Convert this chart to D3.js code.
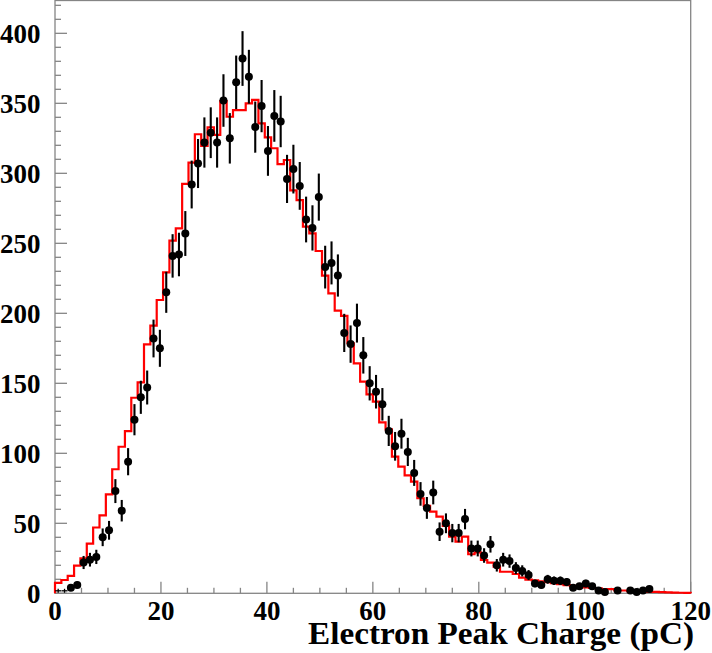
<!DOCTYPE html>
<html>
<head>
<meta charset="utf-8">
<script src="https://cdn.jsdelivr.net/npm/d3@7"></script>
<style>
  html, body { margin: 0; padding: 0; background: #fff; }
  svg { display: block; }
  text { font-family: "Liberation Serif", "Times New Roman", serif; font-weight: bold; fill: #000; }
</style>
</head>
<body>
<svg id="chart" width="712" height="653"></svg>
<script>
// ---- data ----
const binEdges = [0, 120];
const nBins = 100;
const xTickLabels = ["0", "20", "40", "60", "80", "100", "120"];
const yTickLabels = ["0", "50", "100", "150", "200", "250", "300", "350", "400"];
const xTitle = "Electron Peak Charge (pC)";

// MC simulation histogram (red)
const mcValues = [
  7.5, 9.5, 12.4, 19.7, 25, 35.5, 47, 55.7, 70.7, 88.6,
  104.7, 115.9, 139.7, 150.7, 177.8, 191.2, 209.5, 229.3, 251.9, 260.7,
  292.4, 307.6, 327.9, 319.5, 332.9, 327.4, 351.6, 340.4, 345.2, 345.2,
  350, 352.4, 335.7, 325.7, 317.9, 306.6, 309.5, 287.8, 280.9, 261.9,
  257.1, 244.5, 226.9, 214.3, 201.9, 198.1, 178.6, 164.3, 151.2, 142.1,
  136.9, 122.1, 117.1, 97.6, 90.5, 84.2, 79.7, 67.9, 62.4, 58.3,
  54.7, 48.1, 40.5, 36.9, 40.5, 27.9, 29.3, 23.8, 21.9, 19,
  15.4, 15.4, 13.8, 11.2, 9.8, 9.3, 8.6, 8, 7.3, 6.6,
  5.9, 5.3, 4.8, 4.3, 3.8, 3.5, 3, 3, 2, 2,
  1.5, 1.3, 1.2, 1, 1, 0.8, 0.7, 0.5, 0.4, 0.3
];

// measured data (black points, errors = sqrt(N)); null = nothing drawn
const dataValues = [
  0, 0, 4, 6, 22, 24, 26, 40, 45, 73,
  59, 94, 124, 140, 147, 182, 175, 215, 241, 242,
  257, 292, 307, 322, 329, 322, 352, 325, 365, 382,
  369, 333, 348, 316, 341, 337, 296, 303, 291, 267,
  261, 283, 233, 236, 227, 186, 178, 193, 170, 150,
  144, 135, 116, 105, 114, 101, 86, 71, 61, 72,
  44, 50, 43, 43, 53, 32, 32, 27, 35, 20,
  24, 23, 18, 16, 13, 7, 6, 10, 9, 9,
  8, 4, 5, 7, 5, 2, 1, null, 2, null,
  2, 1, 2, 3, null, null, null, null, null, null
];

// ---- layout ----
const svg = d3.select("#chart");
const plot = { left: 55, right: 690.7, top: 0.5, bottom: 593.3 };
const x = d3.scaleLinear().domain(binEdges).range([plot.left, plot.right]);
const y = d3.scaleLinear().domain([0, 423.8]).range([plot.bottom, 0]);
const bw = (binEdges[1] - binEdges[0]) / nBins;
const axisColor = "#858585";

// frame
svg.append("rect")
  .attr("x", plot.left).attr("y", plot.top)
  .attr("width", plot.right - plot.left).attr("height", plot.bottom - plot.top)
  .attr("fill", "none").attr("stroke", axisColor).attr("stroke-width", 1.3);

// x ticks (inward, upward)
const xMinor = d3.range(0, 121, 5);
svg.append("g").selectAll("line").data(xMinor).join("line")
  .attr("x1", d => x(d)).attr("x2", d => x(d))
  .attr("y1", plot.bottom)
  .attr("y2", d => plot.bottom - (d % 20 === 0 ? 11.5 : 5.5))
  .attr("stroke", axisColor).attr("stroke-width", 1.3);

// y ticks (inward, rightward)
const yMinor = d3.range(0, 421, 10);
svg.append("g").selectAll("line").data(yMinor).join("line")
  .attr("y1", d => y(d)).attr("y2", d => y(d))
  .attr("x1", plot.left)
  .attr("x2", d => plot.left + (d % 50 === 0 ? 12 : 6))
  .attr("stroke", axisColor).attr("stroke-width", 1.3);

// tick labels
svg.append("g").selectAll("text").data(xTickLabels).join("text")
  .attr("x", d => x(+d)).attr("y", 620)
  .attr("text-anchor", "middle")
  .attr("font-size", 27)
  .text(d => d);

svg.append("g").selectAll("text").data(yTickLabels).join("text")
  .attr("x", 40.5).attr("y", d => y(+d) + 9.5)
  .attr("text-anchor", "end")
  .attr("font-size", 27)
  .text(d => d);

// axis title
svg.append("text")
  .attr("x", 694).attr("y", 644)
  .attr("text-anchor", "end")
  .attr("font-size", 31)
  .attr("textLength", 386)
  .attr("lengthAdjust", "spacingAndGlyphs")
  .text(xTitle);

// MC histogram (step line)
const stepPts = [[binEdges[0], 0]];
mcValues.forEach((v, i) => {
  stepPts.push([binEdges[0] + i * bw, v]);
  stepPts.push([binEdges[0] + (i + 1) * bw, v]);
});
stepPts.push([binEdges[1], 0]);
svg.append("path")
  .datum(stepPts)
  .attr("d", d3.line().x(d => x(d[0])).y(d => y(d[1])))
  .attr("fill", "none")
  .attr("stroke", "#ff0000")
  .attr("stroke-width", 2.2)
  .attr("stroke-linejoin", "miter");

// data points
const pts = dataValues.map((v, i) => ({ c: binEdges[0] + (i + 0.5) * bw, v }))
  .filter(p => p.v !== null);
const g = svg.append("g");
g.selectAll("line.err").data(pts.filter(p => p.v > 0)).join("line")
  .attr("class", "err")
  .attr("x1", p => x(p.c)).attr("x2", p => x(p.c))
  .attr("y1", p => y(p.v + Math.sqrt(p.v)))
  .attr("y2", p => Math.min(y(0), y(p.v - Math.sqrt(p.v))))
  .attr("stroke", "#000").attr("stroke-width", 2.1);
g.selectAll("circle").data(pts.filter(p => p.v > 0)).join("circle")
  .attr("cx", p => x(p.c)).attr("cy", p => y(p.v))
  .attr("r", 4).attr("fill", "#000");
// empty bins: small cross mark at baseline
const zeros = pts.filter(p => p.v === 0);
g.selectAll("line.zh").data(zeros).join("line")
  .attr("class", "zh")
  .attr("x1", p => x(p.c) - 3).attr("x2", p => x(p.c) + 3)
  .attr("y1", y(0) - 2.5).attr("y2", y(0) - 2.5)
  .attr("stroke", "#000").attr("stroke-width", 1.3);
g.selectAll("line.zv").data(zeros).join("line")
  .attr("class", "zv")
  .attr("x1", p => x(p.c)).attr("x2", p => x(p.c))
  .attr("y1", y(0) - 4.5).attr("y2", y(0) - 0.5)
  .attr("stroke", "#000").attr("stroke-width", 1.3);
</script>
</body>
</html>
